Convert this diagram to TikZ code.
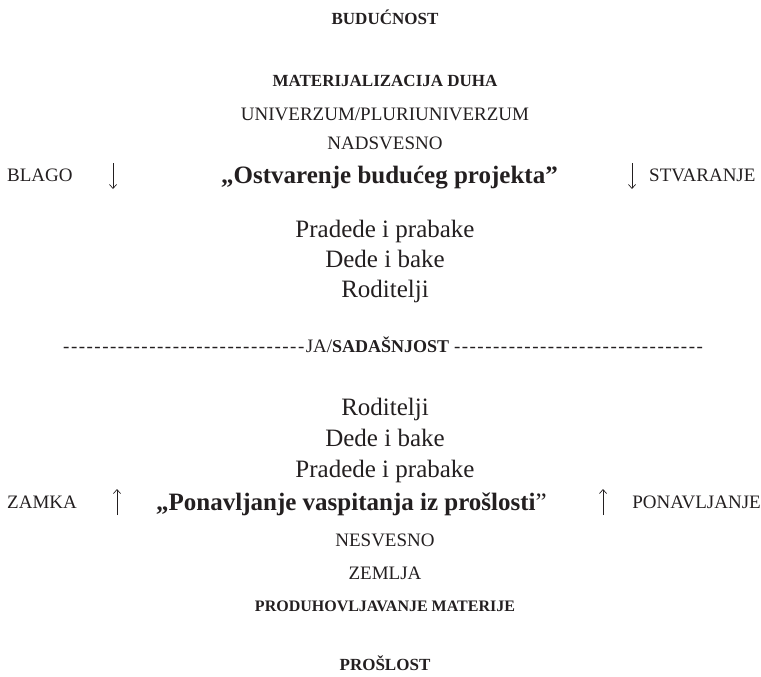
\documentclass[tikz,border=0pt]{standalone}
\usepackage{fontspec}
\setmainfont{Liberation Serif}
\usetikzlibrary{arrows.meta,positioning}

\definecolor{ink}{RGB}{35,31,32}
\newcommand\dashrun[1]{\foreach \k in {1,...,#1}{-\kern1.5pt}}

\begin{document}
\begin{tikzpicture}[
    x=1pt, y=-1pt,
    node distance=31pt,
    inner sep=0pt,
    text=ink,
    family/.style={font=\fontsize{25}{30}\selectfont, text height=16.5pt, text depth=0pt},
    quote/.style={font=\fontsize{25}{30}\selectfont, text height=16.5pt, text depth=0pt, anchor=west},
    caps/.style={font=\fontsize{19}{23}\selectfont, text height=12.6pt, text depth=0pt},
    boldcaps/.style={font=\fontsize{17}{21}\selectfont\bfseries, text height=11.3pt, text depth=0pt},
    glypharrow/.style={draw=ink, line width=0.7pt, -{Straight Barb[length=4pt,width=7pt]}}
]
\useasboundingbox (0,0) rectangle (761,677);

% Future
\node[boldcaps] (buducnost) at (385,19) {BUDUĆNOST};
\node[boldcaps, below of=buducnost, node distance=62pt] (materija) {MATERIJALIZACIJA DUHA};
\node[caps, below of=materija, node distance=33pt] (univerzum) {UNIVERZUM/PLURIUNIVERZUM};
\node[caps, below of=univerzum, node distance=29pt] (nadsvesno) {NADSVESNO};

% Row with arrows down
\node[caps, anchor=west] (blago) at (7,175) {BLAGO};
\node[quote] (ostvarenje) at (221,175) {\bfseries „Ostvarenje budućeg projekta”};
\node[caps, anchor=west] (stvaranje) at (649,175) {STVARANJE};
\coordinate (blagoTop) at (113,163);
\coordinate (blagoBot) at (113,189);
\coordinate (stvarTop) at (632,163);
\coordinate (stvarBot) at (632,189);

% Ancestors above
\node[family, below of=nadsvesno, node distance=86pt] (pradedeA) {Pradede i prabake};
\node[family, below of=pradedeA, node distance=30pt] (dedeA) {Dede i bake};
\node[family, below of=dedeA, node distance=30pt] (roditeljiA) {Roditelji};

% Present
\node[caps, anchor=west] (sadasnjost) at (63,346)
    {\dashrun{31}JA/{\fontsize{18}{22}\selectfont\bfseries SADAŠNJOST} \dashrun{32}};

% Ancestors below
\node[family, below of=roditeljiA, node distance=118pt] (roditeljiB) {Roditelji};
\node[family, below of=roditeljiB] (dedeB) {Dede i bake};
\node[family, below of=dedeB] (pradedeB) {Pradede i prabake};

% Row with arrows up
\node[caps, anchor=west] (zamka) at (7,502) {ZAMKA};
\node[quote] (ponavljanje) at (156,502) {\textbf{„Ponavljanje vaspitanja iz prošlosti}”};
\node[caps, anchor=east] (ponavlj) at (761,502) {PONAVLJANJE};
\coordinate (zamkaBot) at (117,515);
\coordinate (zamkaTop) at (117,489);
\coordinate (ponavBot) at (603,515);
\coordinate (ponavTop) at (603,489);

% Past
\node[caps, below of=pradedeB, node distance=71pt] (nesvesno) {NESVESNO};
\node[caps, below of=nesvesno, node distance=33pt] (zemlja) {ZEMLJA};
\node[boldcaps, font=\fontsize{16}{20}\selectfont\bfseries, below of=zemlja, node distance=33pt] (produh) {PRODUHOVLJAVANJE MATERIJE};
\node[boldcaps, below of=produh, node distance=59pt] (proslost) {PROŠLOST};

% Arrows
\draw[glypharrow] (blagoTop) -- (blagoBot);
\draw[glypharrow] (stvarTop) -- (stvarBot);
\draw[glypharrow] (zamkaBot) -- (zamkaTop);
\draw[glypharrow] (ponavBot) -- (ponavTop);

\end{tikzpicture}
\end{document}
